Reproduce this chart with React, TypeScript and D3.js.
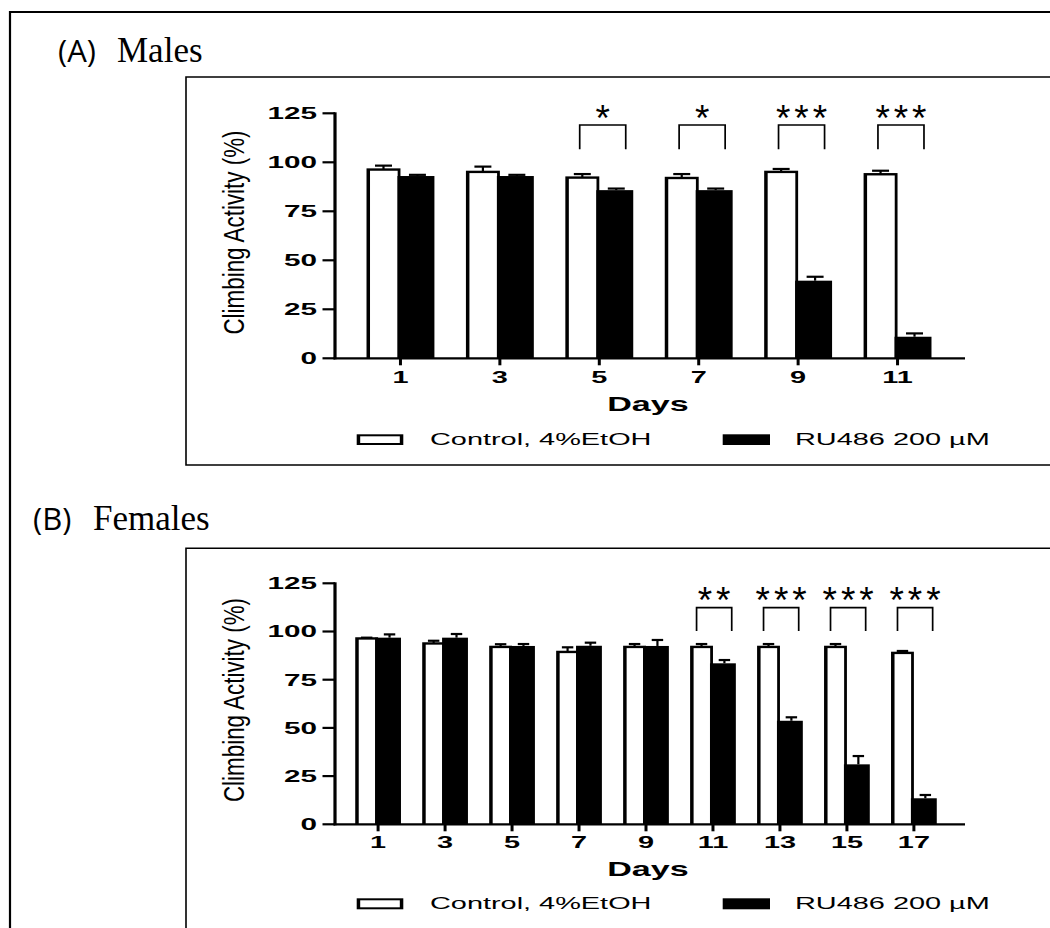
import * as d3 from 'd3';
import React from 'react';

// values (climbing activity, %)
const maleDays = ['1', '3', '5', '7', '9', '11'];
const maleControl = [96.4, 95.2, 92.3, 92.1, 95.2, 94.0];
const maleControlErr = [1.9, 2.6, 1.7, 1.9, 1.4, 1.7];
const maleRu = [93.0, 93.0, 85.8, 85.8, 39.6, 11.0];
const maleRuErr = [0.6, 0.6, 0.8, 0.8, 2.0, 1.7];
const maleSig = ['', '', '*', '*', '***', '***'];

const femaleDays = ['1', '3', '5', '7', '9', '11', '13', '15', '17'];
const femaleControl = [96.5, 93.9, 92.1, 89.5, 92.1, 92.1, 92.1, 92.1, 89.0];
const femaleControlErr = [0.3, 1.3, 1.3, 2.3, 1.4, 1.4, 1.4, 1.4, 0.9];
const femaleRu = [96.8, 96.8, 92.5, 92.6, 92.5, 83.5, 53.7, 31.1, 13.5];
const femaleRuErr = [1.7, 1.9, 1.0, 1.6, 3.1, 1.7, 1.8, 4.3, 1.7];
const femaleSig = ['', '', '', '', '', '**', '***', '***', '***'];

const yTicks = [0, 25, 50, 75, 100, 125];
const legendLabels = ['Control, 4%EtOH', 'RU486 200 µM'];

const SANS = 'Liberation Sans, Arial, sans-serif';
const SERIF = 'Liberation Serif, Times New Roman, serif';
const STAR_SIZE = 37;

const layoutA = {
  letter: '(A)', title: 'Males', letterX: 58, titleX: 117, titleBase: 61.7,
  boxTop: 77, boxBottom: 465,
  y0: 358.3, yTop: 113.3, xRange: [335, 963],
  tickBase: 383.3, daysBase: 410.7, legendTop: 434.3, legendBase: 445,
  yLabelMid: 232.5, brTop: 125, brBottom: 149.3, starMid: 114.3, brOff: [-0.197, 0.266],
};
const layoutB = {
  letter: '(B)', title: 'Females', letterX: 33, titleX: 93, titleBase: 530,
  boxTop: 548.3, boxBottom: null,
  y0: 824.3, yTop: 583.3, xRange: [334, 958],
  tickBase: 848.3, daysBase: 876, legendTop: 898.3, legendBase: 909.3,
  yLabelMid: 700, brTop: 607.7, brBottom: 631, starMid: 596.7, brOff: [-0.245, 0.28],
};

function SText(props) {
  const { x, y, sx = 1, size, anchor = 'start', weight = 'normal', family = SANS, rotate = 0, children } = props;
  const t = `translate(${x},${y}) scale(${sx},1)` + (rotate ? ` rotate(${rotate})` : '');
  return (
    <text transform={t} fontSize={size} textAnchor={anchor} fontWeight={weight} fontFamily={family} fill="#000">
      {children}
    </text>
  );
}

function Panel({ lay, days, ctrl, ctrlErr, ru, ruErr, sig }) {
  const x = d3.scaleBand().domain(days).range(lay.xRange).padding(0.317);
  const y = d3.scaleLinear().domain([0, 125]).range([lay.y0, lay.yTop]);
  const bw = x.bandwidth() / 2;
  const cap = bw * 0.5;
  const step = x.step();

  return (
    <g>
      {/* panel title */}
      <text x={lay.letterX} y={lay.titleBase} fontFamily="Open Sans, sans-serif" fontSize={31}>{lay.letter}</text>
      <text x={lay.titleX} y={lay.titleBase} fontFamily={SERIF} fontSize={35}>{lay.title}</text>

      {/* panel frame */}
      <path
        d={`M1052,${lay.boxTop}H186V${lay.boxBottom == null ? 940 : lay.boxBottom}` + (lay.boxBottom == null ? '' : 'H1052')}
        fill="none" stroke="#000" strokeWidth={1.6} />

      {/* bars */}
      {days.map((d, i) => {
        const x0 = x(d);
        const yc = y(ctrl[i]);
        const yr = y(ru[i]);
        const cc = x0 + bw / 2;
        const rc = x0 + bw * 1.5;
        return (
          <g key={d}>
            <line x1={cc} x2={cc} y1={yc} y2={y(ctrl[i] + ctrlErr[i])} stroke="#000" strokeWidth={2.2} />
            <line x1={cc - cap / 2} x2={cc + cap / 2} y1={y(ctrl[i] + ctrlErr[i])} y2={y(ctrl[i] + ctrlErr[i])} stroke="#000" strokeWidth={2.2} />
            <rect x={x0} y={yc - 1} width={bw} height={lay.y0 - yc + 1} fill="#000" />
            <rect x={x0 + 3.5} y={yc + 1.4} width={bw - 6.3} height={Math.max(0, lay.y0 - yc - 1.4)} fill="#fff" />
            <line x1={rc} x2={rc} y1={yr} y2={y(ru[i] + ruErr[i])} stroke="#000" strokeWidth={2.2} />
            <line x1={rc - cap / 2} x2={rc + cap / 2} y1={y(ru[i] + ruErr[i])} y2={y(ru[i] + ruErr[i])} stroke="#000" strokeWidth={2.2} />
            <rect x={x0 + bw - 3} y={yr} width={bw + 3} height={lay.y0 - yr} fill="#000" />
          </g>
        );
      })}

      {/* significance brackets */}
      {days.map((d, i) => {
        if (!sig[i]) return null;
        const c = x(d) + x.bandwidth() / 2;
        const l = c + lay.brOff[0] * step;
        const r = c + lay.brOff[1] * step;
        const mid = (l + r) / 2;
        const n = sig[i].length;
        return (
          <g key={'s' + d}>
            <path d={`M${l},${lay.brBottom}V${lay.brTop}H${r}V${lay.brBottom}`} fill="none" stroke="#000" strokeWidth={1.7} />
            {d3.range(n).map((k) => (
              <text key={k} x={mid + (k - (n - 1) / 2) * 18.3} y={lay.starMid + STAR_SIZE * 0.44} textAnchor="middle"
                fontFamily={SANS} fontSize={STAR_SIZE} fill="#000">*</text>
            ))}
          </g>
        );
      })}

      {/* axes */}
      <line x1={335} x2={335} y1={lay.yTop - 1} y2={lay.y0 + 1} stroke="#000" strokeWidth={3.2} />
      <line x1={333.5} x2={965} y1={lay.y0} y2={lay.y0} stroke="#000" strokeWidth={2.2} />
      {yTicks.map((t) => (
        <g key={t}>
          <line x1={322.5} x2={335} y1={y(t)} y2={y(t)} stroke="#000" strokeWidth={2.2} />
          <SText x={317} y={y(t) + 5.9} sx={1.8} size={16.5} anchor="end" weight="bold">{t}</SText>
        </g>
      ))}
      {days.map((d) => {
        const c = x(d) + x.bandwidth() / 2;
        return (
          <g key={'t' + d}>
            <line x1={c} x2={c} y1={lay.y0} y2={lay.y0 + 7} stroke="#000" strokeWidth={3} />
            <SText x={c} y={lay.tickBase} sx={1.75} size={16.5} anchor="middle" weight="bold">{d}</SText>
          </g>
        );
      })}
      <SText x={648} y={lay.daysBase} sx={1.75} size={19.5} anchor="middle" weight="bold">Days</SText>
      <SText x={244} y={lay.yLabelMid} sx={1.35} size={22.4} anchor="middle" rotate={-90}>Climbing Activity (%)</SText>

      {/* legend */}
      <rect x={356.7} y={lay.legendTop} width={46.6} height={lay.legendBase - lay.legendTop} fill="#000" />
      <rect x={360.2} y={lay.legendTop + 2} width={39.6} height={lay.legendBase - lay.legendTop - 4} fill="#fff" />
      <SText x={430} y={lay.legendBase} sx={1.7} size={17}>{legendLabels[0]}</SText>
      <rect x={722.7} y={lay.legendTop} width={47.3} height={lay.legendBase - lay.legendTop} fill="#000" />
      <SText x={795} y={lay.legendBase} sx={1.7} size={17}>{legendLabels[1]}</SText>
    </g>
  );
}

export default function App() {
  return (
    <svg width={1050} height={928} style={{ position: 'absolute', left: 0, top: 0, background: '#fff' }}>
      <rect x={0} y={0} width={1050} height={928} fill="#fff" />
      <path d="M1052,12H10V940" fill="none" stroke="#000" strokeWidth={2.2} />
      <Panel lay={layoutA} days={maleDays} ctrl={maleControl} ctrlErr={maleControlErr}
        ru={maleRu} ruErr={maleRuErr} sig={maleSig} />
      <Panel lay={layoutB} days={femaleDays} ctrl={femaleControl} ctrlErr={femaleControlErr}
        ru={femaleRu} ruErr={femaleRuErr} sig={femaleSig} />
    </svg>
  );
}
